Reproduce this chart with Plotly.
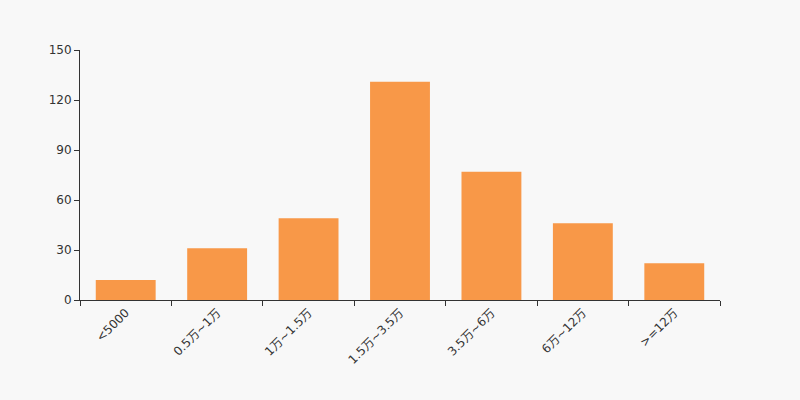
import plotly.graph_objects as go

categories = ["<5000", "0.5万~1万", "1万~1.5万", "1.5万~3.5万", "3.5万~6万", "6万~12万", ">=12万"]
values = [12, 31, 49, 131, 77, 46, 22]
y_ticks = [0, 30, 60, 90, 120, 150]

fig = go.Figure(go.Bar(x=categories, y=values, marker=dict(color="#F89848", line=dict(width=0))))

fig.update_layout(
    width=800, height=400,
    margin=dict(l=80, r=80, t=50, b=100),
    paper_bgcolor="#F8F8F8", plot_bgcolor="#F8F8F8",
    bargap=0.345,
    showlegend=False,
    font=dict(family="DejaVu Sans, Noto Sans CJK SC", size=12, color="#333333"),
)
fig.update_xaxes(
    type="category", showline=True, linecolor="#333333", linewidth=1,
    ticks="outside", tickson="boundaries", ticklen=5, tickcolor="#333333",
    tickangle=-45, showgrid=False, zeroline=False,
)
fig.update_yaxes(
    range=[0, 150], tickvals=y_ticks, showline=True, linecolor="#333333", linewidth=1,
    ticks="outside", ticklen=5, tickcolor="#333333", showgrid=False, zeroline=False,
)

fig.write_html(
    "out.html",
    config={"displayModeBar": False},
    post_script="document.body.style.margin='0';document.body.style.overflow='hidden';document.body.style.background='#F8F8F8';",
)
